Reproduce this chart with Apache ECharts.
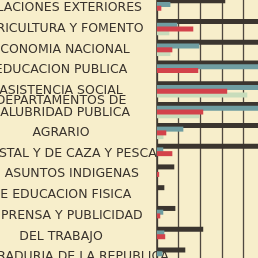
<!DOCTYPE html>
<html>
<head>
<meta charset="utf-8">
<script src="https://cdn.jsdelivr.net/npm/echarts@6/dist/echarts.min.js"></script>
<style>
html,body{margin:0;padding:0;background:#f7eecb;}
#c{width:258px;height:258px;}
</style>
</head>
<body>
<div id="c"></div>
<script>
// Categories (top to bottom)
const categories = [
  'RELACIONES EXTERIORES',
  'AGRICULTURA Y FOMENTO',
  'ECONOMIA NACIONAL',
  'EDUCACION PUBLICA',
  'ASISTENCIA SOCIAL',
  'SALUBRIDAD PUBLICA',
  'AGRARIO',
  'FORESTAL Y DE CAZA Y PESCA',
  'DE ASUNTOS INDIGENAS',
  'DE EDUCACION FISICA',
  'DE PRENSA Y PUBLICIDAD',
  'DEL TRABAJO',
  'PROCURADURIA DE LA REPUBLICA'
];
const headerBefore = 'SALUBRIDAD PUBLICA';
const headerText = 'DEPARTAMENTOS DE';

// Series values (grid interval = 10)
const darkValues  = [31.6, 55, 55, 55, 55, 55, 55, 55, 8.0, 3.4, 8.5, 21.4, 13.1];
const tealValues  = [6.2, 9.4, 19.6, 55, 55, 55, 12.2, 2.9, 0, 0, 2.9, 3.4, 2.5];
const redValues   = [2.0, 16.8, 7.1, 19.1, 32.5, 21.4, 4.3, 7.1, 1.0, 0, 1.5, 3.8, 0];
const greenValues = [0, 5.7, 6.2, 0, 41.8, 19.6, 3.0, 0, 0, 0, 0, 0, 0];

const chart = echarts.init(document.getElementById('c'), null, {renderer: 'canvas'});
const barW = 5;
const gap = '-25%';
const txt = {fontFamily: 'DejaVu Sans', fontSize: 12.5, color: '#3a342e', align: 'center'};
chart.setOption({
  backgroundColor: '#f7eecb',
  animation: false,
  grid: {left: 157, right: -7, top: -4, bottom: -8, containLabel: false, outerBoundsMode: 'none'},
  xAxis: {
    type: 'value', min: 0, max: 50, interval: 10,
    axisLabel: {show: false}, axisTick: {show: false}, axisLine: {show: false},
    splitLine: {show: true, lineStyle: {color: '#4f4840', width: 1.3}}
  },
  yAxis: {
    type: 'category', inverse: true, data: categories,
    axisTick: {show: false},
    axisLine: {show: true, lineStyle: {color: '#3d3731', width: 1.5}},
    axisLabel: {
      interval: 0, align: 'center', margin: 96,
      formatter: function (v) {
        if (v === headerBefore) return '{h|' + headerText + '}\n{h|' + v + '}\n{p|}';
        return '{t|' + v + '}';
      },
      rich: {
        t: Object.assign({lineHeight: 12, padding: [3, 0, 0, 0]}, txt),
        h: Object.assign({lineHeight: 12}, txt),
        p: {fontSize: 1, lineHeight: 7}
      }
    }
  },
  series: [
    {name: 'dark', type: 'bar', data: darkValues, barWidth: barW, barGap: gap, z: 2,
     itemStyle: {color: '#3b352f'}},
    {name: 'teal', type: 'bar', data: tealValues, barWidth: barW, barGap: gap, z: 3,
     itemStyle: {color: '#6f9da1'}},
    {name: 'red', type: 'bar', data: redValues, barWidth: barW, barGap: gap, z: 5,
     itemStyle: {color: '#d3424b'}},
    {name: 'green', type: 'bar', data: greenValues, barWidth: barW, barGap: gap, z: 4,
     itemStyle: {color: '#c8dcbb'}}
  ]
});
</script>
</body>
</html>
